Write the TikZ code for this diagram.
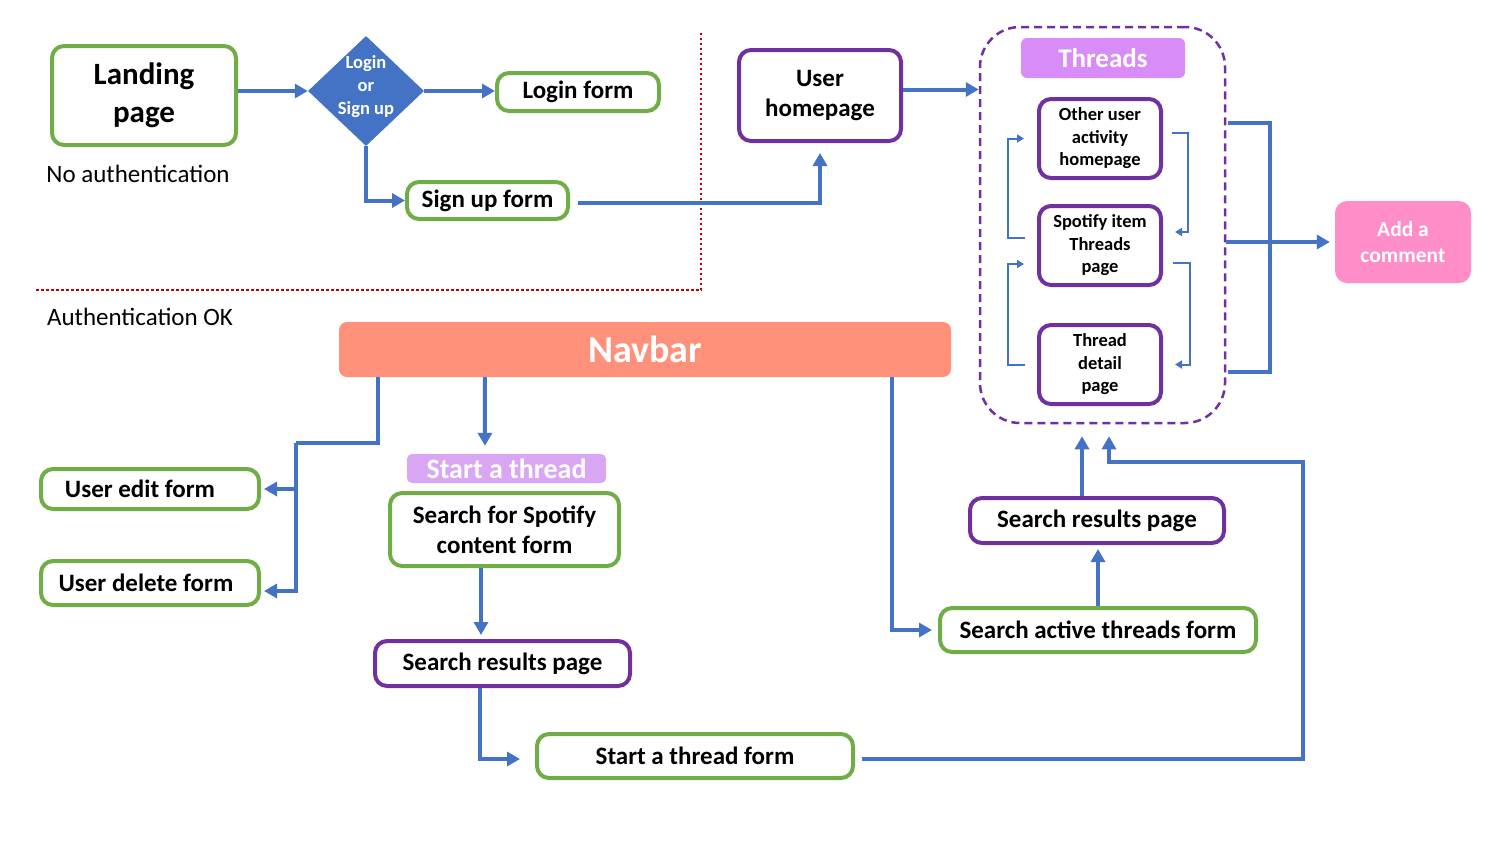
\documentclass[tikz,border=0pt]{standalone}
\usepackage{fontspec}
\setmainfont{Carlito}
\usetikzlibrary{arrows.meta,shapes.geometric}
\definecolor{gr}{HTML}{70AD47}
\definecolor{pu}{HTML}{7030A0}
\definecolor{bl}{HTML}{4472C4}
\definecolor{navc}{HTML}{FF917A}
\definecolor{pinkc}{HTML}{FF8DC7}
\definecolor{violc}{HTML}{D88CF8}
\definecolor{violl}{HTML}{D8A6F2}
\definecolor{reddot}{HTML}{C00000}
\newcommand{\fs}[2]{\fontsize{#1}{#2}\selectfont}
\tikzset{
 box/.style={draw, line width=4pt, rounded corners=12pt, fill=white, align=center, inner sep=0pt, font=\bfseries\fs{25}{30}},
 gbox/.style={box, draw=gr},
 pbox/.style={box, draw=pu},
 tbox/.style={box, draw=pu, minimum width=122pt, minimum height=79pt, font=\bfseries\fs{18.5}{22.5}},
 bline/.style={draw=bl, line width=4pt},
 conn/.style={bline, -{Triangle[length=13pt,width=14pt]}},
 sconn/.style={draw=bl, line width=2pt, -{Triangle[length=7pt,width=8pt]}},
 fillbox/.style={rounded corners=8pt, draw=none, text=white, align=center, inner sep=0pt, font=\bfseries\fs{24}{28}},
 plain/.style={inner sep=0pt, font=\fs{25}{28}}
}
\begin{document}
\begin{tikzpicture}[x=1pt,y=-1pt]
\useasboundingbox[fill=white] (0,0) rectangle (1500,844);

% separators
\draw[reddot, line width=2.5pt, dash pattern=on 2.5pt off 2.5pt] (36,290) -- (701,290) -- (701,33);
\node[plain] (nauth) at (138,174) {No authentication};
\node[plain] (authok) at (140,317) {Authentication OK};

% top part
\node[gbox, minimum width=184pt, minimum height=99pt, font=\bfseries\fs{31}{38}] (landing) at (144,95.5) {Landing\\page};
\node[diamond, fill=bl, draw=none, inner sep=0pt, minimum width=116pt, minimum height=110pt] (dia) at (366,91) {};
\node[text=white, align=center, inner sep=0pt, font=\bfseries\fs{18.5}{23}] (diatxt) at ([yshift=4pt]dia.center) {Login\\or\\Sign up};
\node[gbox, minimum width=162pt, minimum height=38pt] (login) at (578,92) {Login form};
\node[gbox, minimum width=161pt, minimum height=37pt] (signup) at (487.5,200.5) {Sign up form};
\node[pbox, minimum width=162pt, minimum height=91pt] (userhome) at (820,95.5) {User\\homepage};

% threads container
\node[draw=pu, line width=2.5pt, dash pattern=on 8pt off 5pt, rounded corners=40pt, minimum width=245pt, minimum height=396pt, inner sep=0pt] (cont) at (1102.5,225) {};
\node[fillbox, fill=violc, rounded corners=6pt, minimum width=164pt, minimum height=40pt, font=\bfseries\fs{27}{30}] (thlbl) at (1103,58) {Threads};
\node[tbox] (other) at (1100,138.5) {Other user\\activity\\homepage};
\node[tbox] (spot) at (1100,245.5) {Spotify item\\Threads\\page};
\node[tbox] (tdp) at (1100,364.5) {Thread\\detail\\page};
\node[fillbox, fill=pinkc, rounded corners=12pt, minimum width=136pt, minimum height=82pt, font=\bfseries\fs{21.5}{26}] (addc) at (1403,242) {Add a\\comment};

% navbar and below
\node[fillbox, fill=navc, minimum width=612pt, minimum height=55pt, font=\bfseries\fs{38}{42}] (navbar) at (645,349.5) {Navbar};
\node[gbox, minimum width=218pt, minimum height=40pt] (useredit) at (150,489) {User edit form\hspace*{20pt}};
\node[gbox, minimum width=218pt, minimum height=44pt] (userdel) at (150,583) {User delete form\hspace*{8pt}};
\node[fillbox, fill=violl, rounded corners=5pt, minimum width=199pt, minimum height=29pt, font=\bfseries\fs{28}{30}] (stlbl) at (506.5,468.5) {Start a thread};
\node[gbox, minimum width=229pt, minimum height=73pt] (sfs) at (504.5,529.5) {Search for Spotify\\content form};
\node[pbox, minimum width=255pt, minimum height=45pt] (srl) at (502.5,663.5) {Search results page};
\node[gbox, minimum width=316pt, minimum height=44pt] (stf) at (695,756) {Start a thread form};
\node[gbox, minimum width=316pt, minimum height=44pt] (sat) at (1098,630) {Search active threads form};
\node[pbox, minimum width=254pt, minimum height=45pt] (srr) at (1097,520.5) {Search results page};

% connectors top
\draw[conn] (landing.east |- dia.west) -- (dia.west);
\draw[conn] (dia.east) -- (dia.east -| login.west);
\draw[conn] (dia.south) |- (signup.west);
\draw[conn] ([shift={(8pt,-2pt)}]signup.east) -| ([yshift=-10pt]userhome.south);
\draw[conn] ([yshift=6pt]userhome.east) -- ([yshift=6pt]userhome.east -| cont.west);

% threads inner
\draw[sconn] ([shift={(-12pt,8pt)}]spot.west) -- ++(-17pt,0pt) |- ([xshift=-13pt]other.west);
\draw[sconn] ([xshift=-12pt]tdp.west) -- ++(-17pt,0pt) |- ([shift={(-13pt,-18.5pt)}]spot.west);
\draw[sconn] ([shift={(9pt,5.5pt)}]other.east) -- ++(16pt,0pt) |- ([shift={(12pt,13.5pt)}]spot.east);
\draw[sconn] ([shift={(10pt,-17.5pt)}]spot.east) -- ++(17pt,0pt) |- ([xshift=12pt]tdp.east);

% bracket to add a comment
\coordinate (b1) at (1228,123);
\coordinate (b2) at (1228,372);
\draw[bline] (b1) -| (1270,372) -- (b2);
\draw[conn, shorten >=5pt] (cont.east |- addc.west) -- (addc.west);

% navbar connectors
\coordinate (j1) at (296,443);
\draw[bline] ([xshift=39pt]navbar.south west) |- (j1);
\draw[conn, shorten >=3pt] (j1) |- (useredit.east);
\draw[conn, shorten >=3pt] (j1) |- ([yshift=-8pt]userdel.east);
\draw[conn] ([xshift=146pt]navbar.south west) -- ([shift={(-21.5pt,8pt)}]stlbl.north);
\draw[conn, shorten >=4pt] ([xshift=-23.5pt]sfs.south) -- ([xshift=-23.5pt]sfs.south |- srl.north);
\draw[conn] ([xshift=-22.5pt]srl.south) |- ([shift={(-15pt,-3pt)}]stf.west);
\draw[conn] ([shift={(7pt,-3pt)}]stf.east) -| (1303,462) -| ([shift={(6.5pt,-12pt)}]cont.south);
\draw[conn] ([xshift=-59pt]navbar.south east) |- ([xshift=-6pt]sat.west);
\draw[conn, shorten >=4pt] (sat.north) -- (sat.north |- srr.south);
\draw[conn] ([xshift=-15pt]srr.north) -- ([shift={(-20.5pt,-12pt)}]cont.south);
\end{tikzpicture}
\end{document}
